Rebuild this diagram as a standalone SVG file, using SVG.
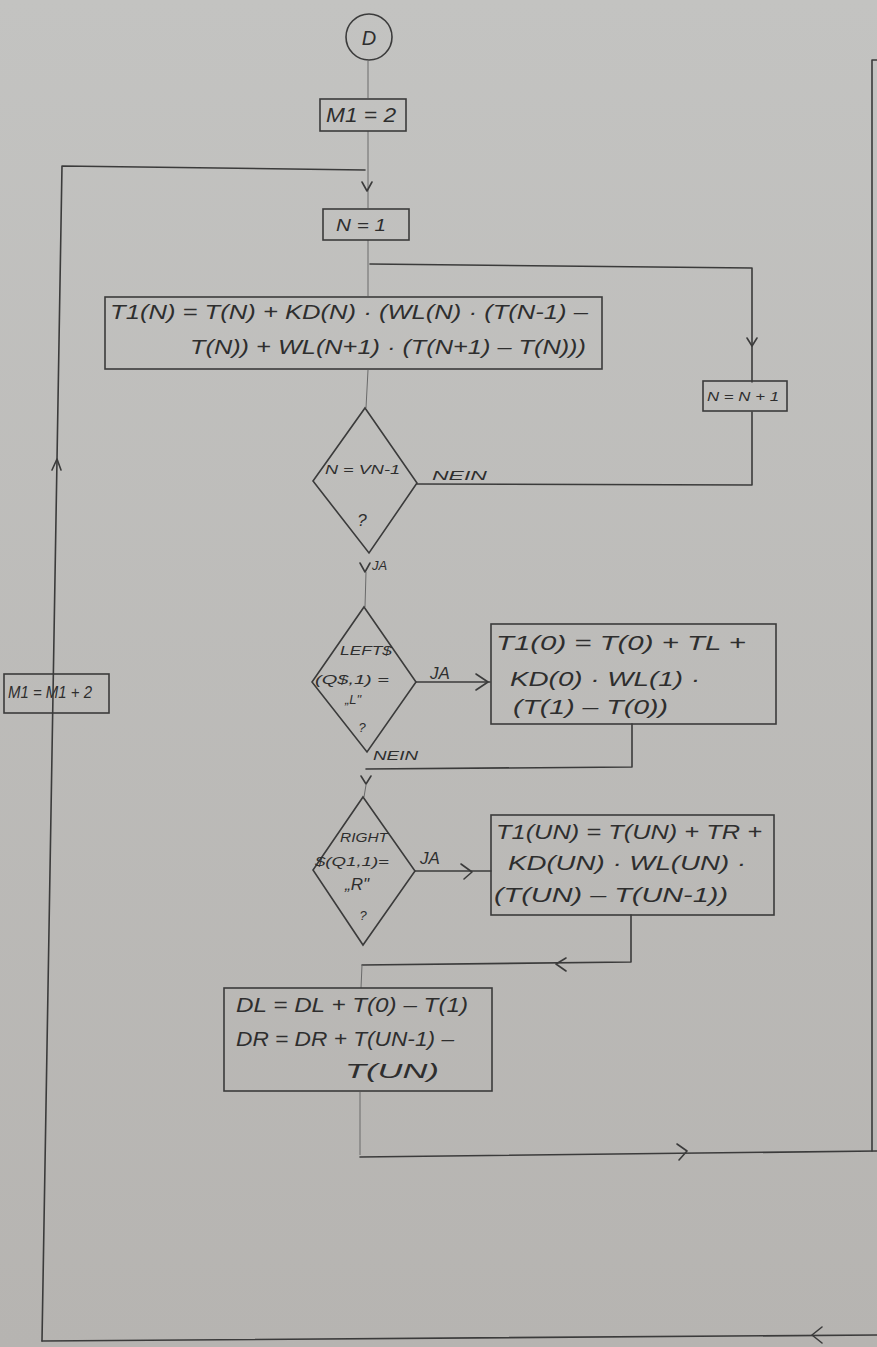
<svg xmlns="http://www.w3.org/2000/svg" width="877" height="1347" viewBox="0 0 877 1347">
<defs>
<linearGradient id="bg" x1="0" y1="0" x2="0" y2="1">
<stop offset="0" stop-color="#c3c3c1"/>
<stop offset="1" stop-color="#b6b4b1"/>
</linearGradient>
</defs>
<style>
.ln{fill:none;stroke:#3b3b3b;stroke-width:1.6;stroke-linecap:round;stroke-linejoin:round}
.fa{fill:none;stroke:#6a6a6a;stroke-width:1;}
.bx{fill:none;stroke:#3b3b3b;stroke-width:1.6}
.t{font-family:"Liberation Sans",Arial,sans-serif;font-style:italic;fill:#2e2e2e}
.b{font-size:20px}
.s{font-size:13px}
.m{font-size:17px}
</style>
<rect width="877" height="1347" fill="url(#bg)"/>

<g id="connectors">
<line class="fa" x1="368" y1="61" x2="368" y2="98"/>
<line class="fa" x1="368" y1="131" x2="368" y2="208"/>
<path class="ln" d="M362,182 L367,191 L372,182"/>
<path class="ln" d="M42,1341 L62,166 L365,170"/>
<path class="ln" d="M52,470 L57,459 L61,470"/>
<line class="fa" x1="368" y1="240" x2="368" y2="296"/>
<path class="ln" d="M370,264 L752,268 L752,382"/>
<path class="ln" d="M747,338 L752,346 L757,338"/>
<line class="fa" x1="368" y1="370" x2="366" y2="408"/>
<path class="ln" d="M417,484 L752,485 L752,412"/>
<path class="ln" d="M360,563 L365,572 L370,563"/>
<line class="fa" x1="366" y1="572" x2="365" y2="607"/>
<path class="ln" d="M416,682 L490,682"/>
<path class="ln" d="M476,674 L488,682 L476,690"/>
<path class="ln" d="M632,724 L632,767 L366,769"/>
<path class="ln" d="M361,776 L366,784 L371,776"/>
<line class="fa" x1="366" y1="785" x2="364" y2="797"/>
<path class="ln" d="M415,871 L491,871"/>
<path class="ln" d="M461,864 L472,872 L464,879"/>
<path class="ln" d="M631,915 L631,962 L362,965"/>
<path class="ln" d="M566,958 L556,964 L566,971"/>
<line class="fa" x1="362" y1="965" x2="361" y2="988"/>
<line class="fa" x1="360" y1="1092" x2="360" y2="1155"/>
<path class="ln" d="M360,1157 L877,1151"/>
<path class="ln" d="M677,1144 L687,1151 L679,1160"/>
<path class="ln" d="M877,60 L872,60 L872,1151"/>
<path class="ln" d="M42,1341 L877,1335"/>
<path class="ln" d="M822,1327 L812,1335 L822,1343"/>
</g>

<g id="start">
<circle cx="369" cy="37" r="23" fill="none" stroke="#3b3b3b" stroke-width="1.6"/>
<text class="t b" x="369" y="45" text-anchor="middle">D</text>
</g>

<g id="m1init">
<rect class="bx" x="320" y="99" width="86" height="32"/>
<text class="t b" x="326" y="122" textLength="70" lengthAdjust="spacingAndGlyphs">M1 = 2</text>
</g>

<g id="ninit">
<rect class="bx" x="323" y="209" width="86" height="31"/>
<text class="t m" x="336" y="231" textLength="50" lengthAdjust="spacingAndGlyphs">N = 1</text>
</g>

<g id="t1n">
<rect class="bx" x="105" y="297" width="497" height="72"/>
<text class="t b" x="110" y="319" textLength="478" lengthAdjust="spacingAndGlyphs">T1(N) = T(N) + KD(N) · (WL(N) · (T(N-1) –</text>
<text class="t b" x="190" y="354" textLength="396" lengthAdjust="spacingAndGlyphs">T(N)) + WL(N+1) · (T(N+1) – T(N)))</text>
</g>

<g id="nn1">
<rect class="bx" x="703" y="381" width="84" height="30"/>
<text class="t s" x="707" y="401" textLength="72" lengthAdjust="spacingAndGlyphs">N = N + 1</text>
</g>

<g id="dec1">
<polygon class="bx" points="365,408 417,483 369,553 313,481"/>
<text class="t s" x="325" y="474" textLength="75" lengthAdjust="spacingAndGlyphs">N = VN-1</text>
<text class="t m" x="362" y="526" text-anchor="middle">?</text>
<text class="t s" x="432" y="480" textLength="55" lengthAdjust="spacingAndGlyphs">NEIN</text>
<text class="t s" x="372" y="570">JA</text>
</g>

<g id="dec2">
<polygon class="bx" points="364,607 416,682 367,752 312,682"/>
<text class="t s" x="340" y="655" textLength="52" lengthAdjust="spacingAndGlyphs">LEFT$</text>
<text class="t s" x="315" y="684" textLength="74" lengthAdjust="spacingAndGlyphs">(Q$,1) =</text>
<text class="t s" x="345" y="704">„L"</text>
<text class="t s" x="362" y="732" text-anchor="middle">?</text>
<text class="t m" x="430" y="679">JA</text>
<text class="t s" x="373" y="760" textLength="45" lengthAdjust="spacingAndGlyphs">NEIN</text>
</g>

<g id="t10">
<rect class="bx" x="491" y="624" width="285" height="100"/>
<text class="t b" x="496" y="650" textLength="250" lengthAdjust="spacingAndGlyphs">T1(0) = T(0) + TL +</text>
<text class="t b" x="510" y="686" textLength="190" lengthAdjust="spacingAndGlyphs">KD(0) · WL(1) ·</text>
<text class="t b" x="513" y="714" textLength="155" lengthAdjust="spacingAndGlyphs">(T(1) – T(0))</text>
</g>

<g id="dec3">
<polygon class="bx" points="363,797 415,871 363,945 313,870"/>
<text class="t s" x="340" y="842" textLength="48" lengthAdjust="spacingAndGlyphs">RIGHT</text>
<text class="t s" x="315" y="866" textLength="74" lengthAdjust="spacingAndGlyphs">$(Q1,1)=</text>
<text class="t m" x="345" y="890">„R"</text>
<text class="t s" x="363" y="920" text-anchor="middle">?</text>
<text class="t m" x="420" y="864">JA</text>
</g>

<g id="t1un">
<rect class="bx" x="491" y="815" width="283" height="100"/>
<text class="t b" x="496" y="839" textLength="266" lengthAdjust="spacingAndGlyphs">T1(UN) = T(UN) + TR +</text>
<text class="t b" x="508" y="870" textLength="238" lengthAdjust="spacingAndGlyphs">KD(UN) · WL(UN) ·</text>
<text class="t b" x="494" y="902" textLength="234" lengthAdjust="spacingAndGlyphs">(T(UN) – T(UN-1))</text>
</g>

<g id="dldr">
<rect class="bx" x="224" y="988" width="268" height="103"/>
<text class="t b" x="236" y="1012" textLength="232" lengthAdjust="spacingAndGlyphs">DL = DL + T(0) – T(1)</text>
<text class="t b" x="236" y="1046" textLength="218" lengthAdjust="spacingAndGlyphs">DR = DR + T(UN-1) –</text>
<text class="t b" x="345" y="1078" textLength="94" lengthAdjust="spacingAndGlyphs">T(UN)</text>
</g>

<g id="m1inc">
<rect class="bx" x="4" y="674" width="105" height="39" fill="#bdbcb9"/>
<text class="t m" x="8" y="698" textLength="84" lengthAdjust="spacingAndGlyphs">M1 = M1 + 2</text>
</g>
</svg>
